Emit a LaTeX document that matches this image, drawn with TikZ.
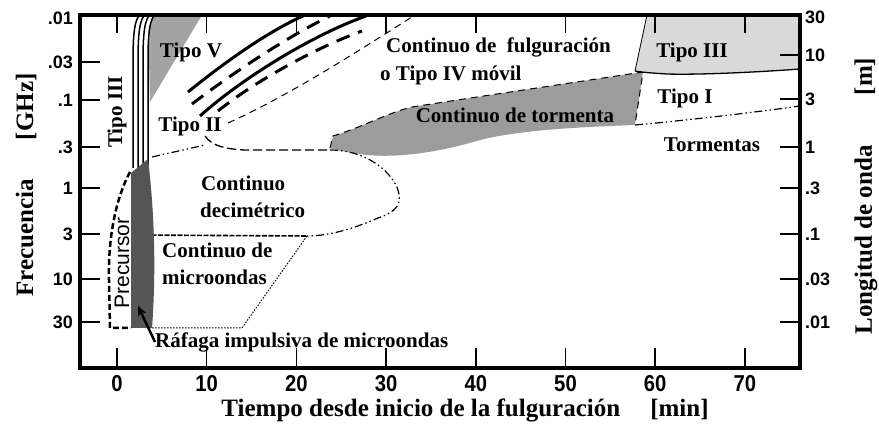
\documentclass[tikz,border=0pt]{standalone}
\usepackage{fontspec}
\setmainfont{Liberation Serif}
\setsansfont{Liberation Sans}
\usetikzlibrary{arrows.meta}
\definecolor{gwedge}{HTML}{A3A3A3}
\definecolor{gstorm}{HTML}{9C9C9C}
\definecolor{glight}{HTML}{D9D9D9}
\definecolor{gdark}{HTML}{555555}
\begin{document}
\begin{tikzpicture}[x=1pt,y=-1pt,
  lbl/.style={font=\fontsize{21}{22}\selectfont\bfseries, inner sep=0pt},
  axl/.style={font=\fontsize{25}{26}\selectfont\bfseries, inner sep=0pt},
  tkl/.style={font=\fontsize{18}{18}\selectfont\sffamily\bfseries, inner sep=0pt},
  tkb/.style={font=\fontsize{23}{23}\selectfont\sffamily\bfseries, inner sep=0pt},
  frame/.style={line width=4pt},
  tick/.style={line width=1.5pt},
  band/.style={line width=3pt},
  banddash/.style={line width=3pt, dash pattern=on 14pt off 9pt},
  thindash/.style={line width=1pt, dash pattern=on 7pt off 5pt},
  dashdot/.style={line width=1.2pt, dash pattern=on 8pt off 3pt on 1.5pt off 3pt on 1.5pt off 3pt},
  densedash/.style={line width=1.6pt, dash pattern=on 5pt off 1.5pt},
  dotline/.style={line width=1pt, dash pattern=on 1.5pt off 1.5pt},
  precdash/.style={line width=2.5pt, dash pattern=on 6pt off 3pt},
  bundle/.style={line width=1.5pt},
]
\useasboundingbox (0,0) rectangle (879,430);

% gray wedge next to Tipo III
\fill[gwedge] (154,15) -- (202,15) -- (150,102) -- (149,60) .. controls (149,30) and (150,20) .. (154,15) -- cycle;

% Tipo III bundle
\foreach \d in {0,5,10,15} {
  \draw[bundle] ({133+\d},168) -- ({133+\d},60) .. controls ({133+\d},32) and ({135+\d},19) .. ({140+\d},15);
}

% storm continuum
\fill[gstorm] (330,148) -- (333,136) .. controls (360,128) and (390,112) .. (412,107) -- (477,97) -- (643,72) -- (635,125)
  .. controls (580,127) and (520,130) .. (480,140) .. controls (440,152) and (400,158) .. (367,155)
  .. controls (350,153) and (335,150) .. (330,148) -- cycle;
\draw[thindash] (330,148) -- (333,136) .. controls (360,128) and (390,112) .. (412,107) -- (477,97) -- (643,72) -- (635,125);

% Tipo III (right) light region
\fill[glight] (647,15) -- (800,15) -- (800,69) .. controls (760,72) and (700,75) .. (667,74) .. controls (650,73) and (640,72) .. (635,71) -- cycle;
\draw[line width=0.8pt] (647,15) -- (635,71);
\draw[line width=1.3pt] (635,71) .. controls (640,72) and (650,73) .. (667,74) .. controls (700,75) and (760,72) .. (800,69);

% boundary Tipo I / Tormentas
\draw[dashdot] (635,125) .. controls (680,121) and (750,113) .. (800,106);

% Tipo V bands
\draw[band] (188,92) .. controls (220,66) and (265,33) .. (303,16);
\draw[banddash] (192,104) .. controls (230,75) and (285,38) .. (330,16);
\draw[band] (200,116) .. controls (240,80) and (310,36) .. (366,16);
\draw[banddash] (218,111) .. controls (250,85) and (310,50) .. (362,31);
\draw[thindash] (228,123) .. controls (290,95) and (360,50) .. (415,15);

% decimetric continuum boundary
\draw[dashdot] (152,157) -- (205,145);
\draw[line width=1.3pt, dash pattern=on 9pt off 4pt] (205,136) .. controls (212,146) and (225,149) .. (245,150) -- (330,150);
\draw[dashdot] (330,150) .. controls (360,150) and (385,165) .. (396,185) .. controls (405,205) and (395,212) .. (378,218)
  .. controls (355,228) and (330,236) .. (307,236);
\draw[densedash] (132,235) -- (307,236);

% microwave continuum
\draw[dotline] (307,236) -- (242,328) -- (150,328);

% impulsive burst
\fill[gdark] (131,173) -- (148,159) .. controls (153,200) and (157,260) .. (152,328) -- (131,328) -- cycle;

% precursor
\draw[precdash] (130,172) .. controls (115,200) and (108,240) .. (109,280) -- (110,328) -- (131,328);

% texts
\node[lbl] (tipoV) at (191,52) {Tipo V};
\node[lbl] (tipoII) at (190,126) {Tipo II};
\node[lbl, rotate=90] (tipoIIIv) at (117,112) {Tipo III};
\node[lbl, anchor=west] (cf1) at (386,47) {Continuo de\ \ fulguración};
\node[lbl, anchor=west] (cf2) at (380,75) {o Tipo IV móvil};
\node[lbl] (ctorm) at (515,115) {Continuo de tormenta};
\node[lbl] (tipoIIIr) at (692,52) {Tipo III};
\node[lbl] (tipoI) at (685,98) {Tipo I};
\node[lbl] (torm) at (712,145) {Tormentas};
\node[lbl, anchor=west] (cd1) at (201,183) {Continuo};
\node[lbl, anchor=west] (cd2) at (200,210) {decimétrico};
\node[lbl, anchor=west] (cm1) at (162,250) {Continuo de};
\node[lbl, anchor=west] (cm2) at (162,277) {microondas};
\node[font=\fontsize{21}{21}\selectfont\sffamily, rotate=90, inner sep=0pt] (prec) at (122,263) {Precursor};
\node[lbl, anchor=west] (rafaga) at (155,342) {Ráfaga impulsiva de microondas};

\coordinate (arrhead) at (138,306);
\draw[line width=2.5pt, -{Stealth[length=10pt,width=9pt]}] (rafaga.west) -- (arrhead);

% ticks and tick labels
\foreach \t in {0,10,...,70} {
  \draw[tick] ({117+8.97*\t},15) -- ({117+8.97*\t},33);
  \draw[tick] ({117+8.97*\t},368) -- ({117+8.97*\t},348);
  \node[tkb] (bx\t) at ({117+8.97*\t},384) {\scalebox{0.88}[1]{\t}};
}
\foreach \y/\ly/\l [count=\i] in {15/18/.01, 62/62/.03, 100/100/.1, 147/147/.3, 188/188/1, 234/234/3, 279/279/10, 322/322/30} {
  \draw[tick] (80,\y) -- (100,\y);
  \node[tkl, anchor=east] (ly\i) at (73,\ly) {\l};
}
\foreach \y/\ly/\l [count=\i] in {15/17/30, 55/55/10, 99/99/3, 147/147/1, 188/188/.3, 234/234/.1, 279/279/.03, 322/322/.01} {
  \draw[tick] (780,\y) -- (800,\y);
  \node[tkl, anchor=west] (ry\i) at (805,\ly) {\l};
}

% frame
\draw[frame] (80,15) rectangle (800,368);

% axis labels
\node[axl, rotate=90] (ylab) at (26,185) {Frecuencia\hspace{39pt}[GHz]};
\node[axl, rotate=90] (y2lab) at (866,196) {Longitud de onda\hspace{50pt}[m]};
\node[axl, anchor=base] (xlab) at (465,417) {Tiempo desde inicio de la fulguración\hspace{30pt}[min]};
\end{tikzpicture}
\end{document}
